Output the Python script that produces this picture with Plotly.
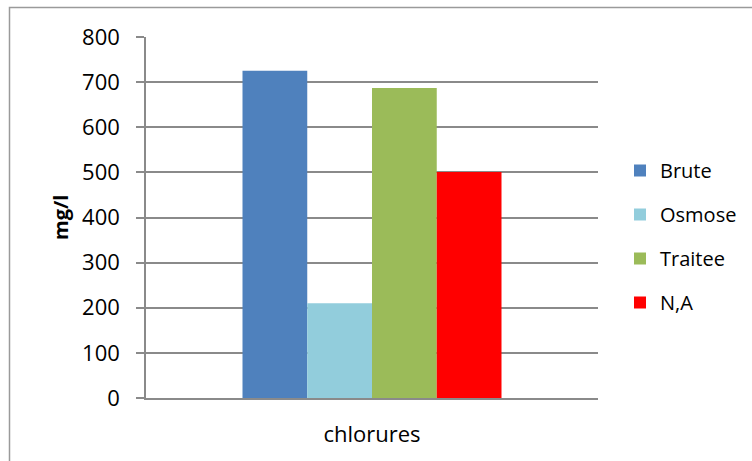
import plotly.graph_objects as go

# Chloride concentration per water type
categories = ["chlorures"]
series_names = ["Brute", "Osmose", "Traitee", "N,A"]
brute = [725]
osmose = [210]
traitee = [687]
na = [501]
series_values = [brute, osmose, traitee, na]
series_colors = ["#4F81BD", "#92CDDC", "#9BBB59", "#FF0000"]
y_ticks = [0, 100, 200, 300, 400, 500, 600, 700, 800]
y_title = "mg/l"

W, H = 752, 461
L, R, T, B = 146, 154, 37, 63
pw, ph = W - L - R, H - T - B

font_family = "Open Sans, Liberation Sans, sans-serif"
grid_col = "#8a8a8a"

fig = go.Figure()
for i, (name, vals, col) in enumerate(zip(series_names, series_values, series_colors)):
    fig.add_trace(go.Bar(
        x=categories, y=vals, name=name,
        marker=dict(color=col, line=dict(width=0)),
        legendgroup=f"g{i}",
    ))


def px_x(p):
    return (p - L) / pw


def px_y(p):
    return (H - B - p) / ph


# outer chart frame (top and left edges visible)
fig.add_shape(type="rect", xref="paper", yref="paper",
              x0=px_x(9.5), x1=px_x(W + 20), y0=px_y(H + 20), y1=px_y(7.5),
              line=dict(color="#9a9a9a", width=1.5), fillcolor="rgba(0,0,0,0)",
              layer="below")

# vertical axis title
fig.add_annotation(text=f"<b>{y_title}</b>", xref="paper", yref="paper",
                   x=px_x(60), y=px_y(218), xanchor="center", yanchor="middle",
                   textangle=-90, showarrow=False,
                   font=dict(size=20, family=font_family, color="#000000"))

fig.update_layout(
    width=W, height=H,
    margin=dict(l=L, r=R, t=T, b=B, autoexpand=False),
    paper_bgcolor="white", plot_bgcolor="white",
    barmode="group", bargap=0.427, bargroupgap=0,
    font=dict(family=font_family, color="#000000"),
    showlegend=True,
    legend=dict(
        x=px_x(620), xanchor="left",
        y=px_y(236.5), yanchor="middle",
        font=dict(size=20, family=font_family),
        tracegroupgap=15,
        bgcolor="rgba(0,0,0,0)",
    ),
    xaxis=dict(
        type="category",
        showline=True, linecolor=grid_col, linewidth=1.5,
        showgrid=False, ticks="",
        ticklabelstandoff=16,
        tickfont=dict(size=22, family=font_family),
        fixedrange=True,
    ),
    yaxis=dict(
        range=[0, 800], tickvals=y_ticks,
        showline=True, linecolor=grid_col, linewidth=1.5,
        showgrid=True, gridcolor=grid_col, gridwidth=1.5,
        ticks="outside", ticklen=8, tickcolor=grid_col, tickwidth=1.5,
        ticklabelstandoff=12,
        tickfont=dict(size=22, family=font_family),
        zeroline=False,
        fixedrange=True,
    ),
)

fig.write_html("out.html")
